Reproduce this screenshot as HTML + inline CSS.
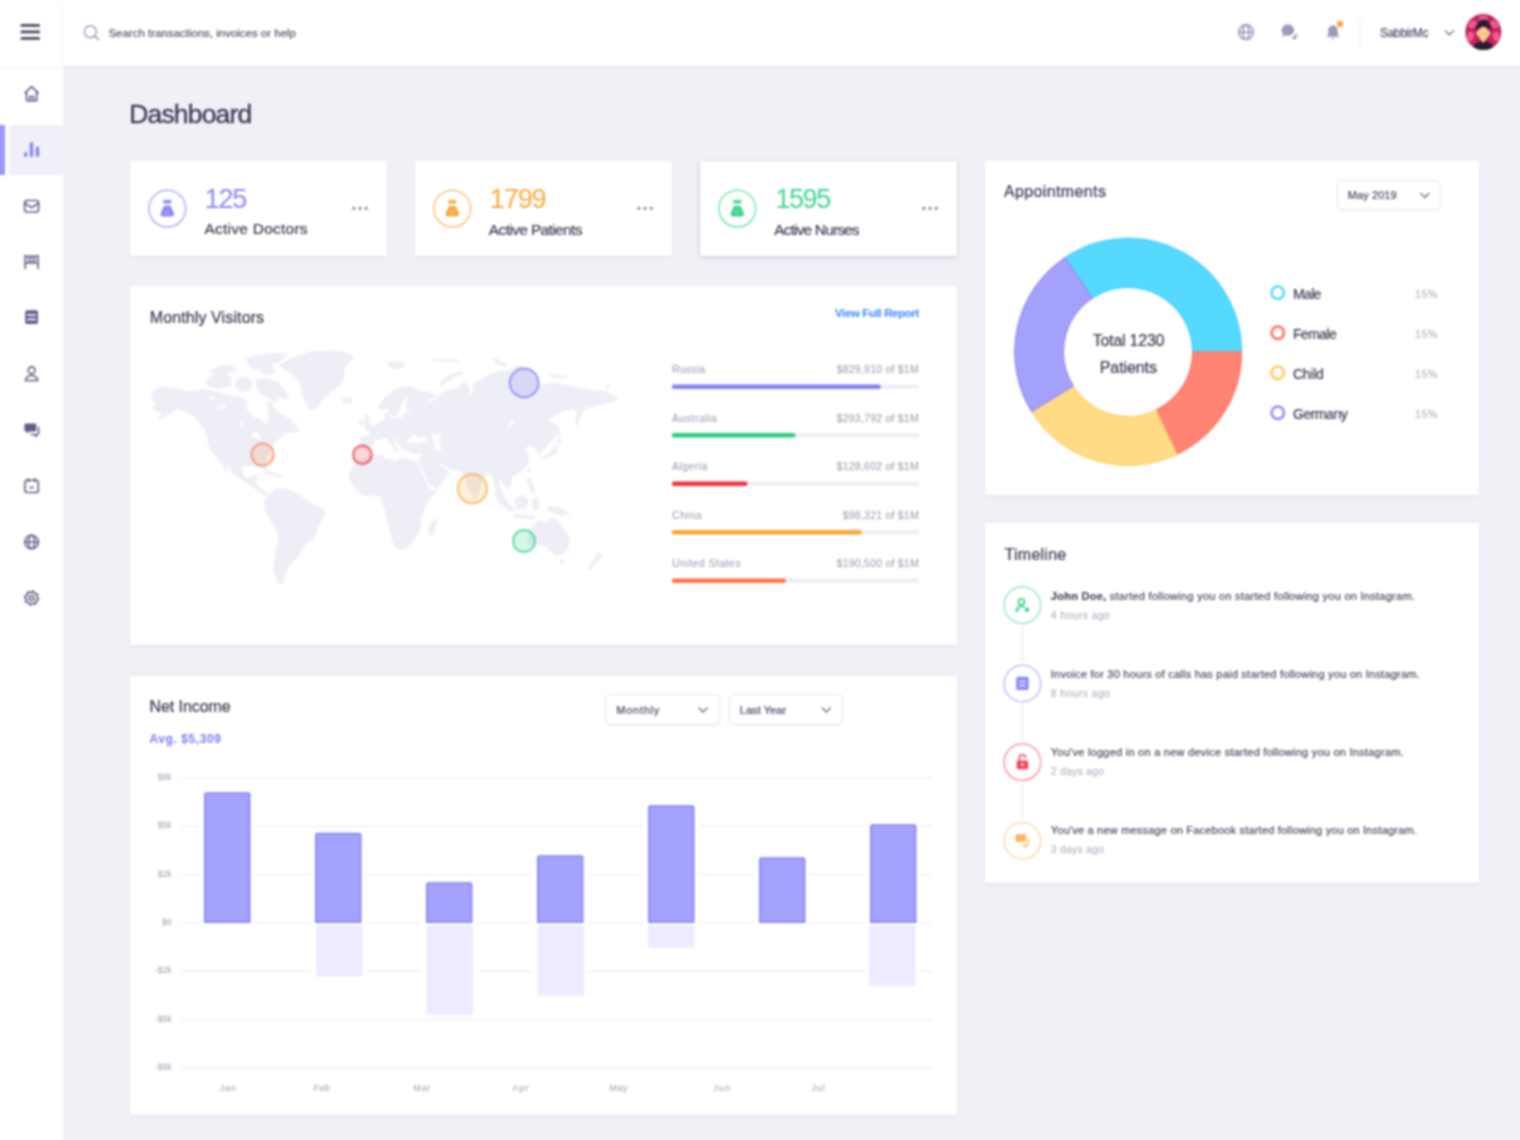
<!DOCTYPE html>
<html lang="en"><head><meta charset="utf-8"><title>Dashboard</title>
<style>
*{box-sizing:border-box;margin:0;padding:0}
html,body{width:1520px;height:1140px;overflow:hidden}
body{background:#f0f0f7;font-family:"Liberation Sans", sans-serif;position:relative;color:#43425d}
.fx{position:absolute;left:-24px;top:-24px;width:1568px;height:1188px;background:#f0f0f7;filter:blur(.9px)}
.pg{position:absolute;left:24px;top:24px;width:1520px;height:1140px}
.t{position:absolute;white-space:nowrap;line-height:1;display:block}
.a{position:absolute}
.card{position:absolute;background:#fff;box-shadow:-.5px 1px 3px rgba(60,60,110,.09)}
svg{position:absolute;overflow:visible}
</style></head>
<body>
<div class="fx"><div class="pg">
<div class="a" style="left:-12px;top:66px;width:75px;height:1090px;background:#fff"></div>
<div class="a" style="left:-12px;top:-12px;width:1544px;height:78px;background:#fff;box-shadow:0 1px 4px rgba(60,60,110,.08)"></div>
<div class="a" style="left:8.500px;top:125px;width:54.500px;height:50px;background:#f0f0f8"></div>
<div class="a" style="left:-12px;top:124.500px;width:16.700px;height:50px;background:#9a96fa"></div>
<div class="card" style="left:130px;top:161px;width:257px;height:95px;"></div>
<div class="card" style="left:415px;top:161px;width:257px;height:95px;"></div>
<div class="card" style="left:700px;top:161px;width:257px;height:95px;box-shadow:0 1px 4px rgba(50,50,90,.24)"></div>
<div class="card" style="left:130px;top:286px;width:827px;height:359px;"></div>
<div class="card" style="left:130px;top:675.6px;width:827px;height:439.4px;"></div>
<div class="card" style="left:985.4px;top:161px;width:494px;height:334px;"></div>
<div class="card" style="left:985.4px;top:523.3px;width:494px;height:359.7px;"></div>
<div class="a" style="left:1337.3px;top:179.8px;width:103.7px;height:30.6px;background:#fff;border:1.200px solid #e6e7f0;border-radius:5px;box-shadow:0 1px 2px rgba(60,60,110,.07)"></div>
<div class="a" style="left:605.2px;top:694.3px;width:114.6px;height:30.5px;background:#fff;border:1.200px solid #e6e7f0;border-radius:5px;box-shadow:0 1px 2px rgba(60,60,110,.07)"></div>
<div class="a" style="left:728.7px;top:694.3px;width:114.8px;height:30.5px;background:#fff;border:1.200px solid #e6e7f0;border-radius:5px;box-shadow:0 1px 2px rgba(60,60,110,.07)"></div>
<svg width="1520" height="1140" viewBox="0 0 1520 1140" style="left:0;top:0">
<rect x="20.5" y="23.9" width="19.5" height="2.8" rx="1" fill="#4a4a60"/>
<rect x="20.5" y="30.45" width="19.5" height="2.8" rx="1" fill="#4a4a60"/>
<rect x="20.5" y="37" width="19.5" height="2.8" rx="1" fill="#4a4a60"/>
<path d="M63.700 0V65.500" stroke="#f8f8fb" stroke-width="1"/>
<circle cx="90.400" cy="31.700" r="6" fill="none" stroke="#8f8fac" stroke-width="1.250"/><path d="M94.900 36.200l3.700 3.600" stroke="#8f8fac" stroke-width="1.300" stroke-linecap="round"/>
<g fill="none" stroke="#9a9aba" stroke-width="1.700"><circle cx="1246" cy="32.200" r="7.300"/><ellipse cx="1246" cy="32.200" rx="3.100" ry="7.300"/><path d="M1238.700 32.200h14.600"/></g>
<path d="M1287.900 24.500c3.500 0 6.200 2.500 6.200 5.600s-2.700 5.600-6.200 5.600c-.9 0-1.700-.1-2.500-.4l-3.300 1.400.9-3c-.8-1-1.300-2.200-1.300-3.600 0-3.100 2.700-5.600 6.200-5.600z" fill="#9a9aba"/><path d="M1297.600 33l-1.600 6.200-4.600-.6z" fill="#9a9aba"/>
<path d="M1333 25.500c-3.200 0-4.700 2.400-4.700 5.200v3.500l-1.800 2.500h13l-1.800-2.500v-3.500c0-2.800-1.500-5.200-4.700-5.200z" fill="#9a9aba"/><path d="M1331.300 38.200a1.800 1.800 0 0 0 3.400 0z" fill="#9a9aba"/>
<circle cx="1340" cy="24" r="3.700" fill="#fca73d" stroke="#fff" stroke-width="1"/>
<path d="M1360 19.500v25.500" stroke="#f0f0f6" stroke-width="1.400"/>
<path d="M1445.300 30.800l4.100 4.100 4.100-4.100" fill="none" stroke="#8a8aa6" stroke-width="1.600" stroke-linecap="round" stroke-linejoin="round"/>
<clipPath id="av"><circle cx="1483.300" cy="32" r="18"/></clipPath>
<circle cx="1483.300" cy="32" r="18" fill="#c31f5c"/>
<g clip-path="url(#av)"><g fill="#ee5a90"><ellipse cx="1472.500" cy="24.500" rx="4.800" ry="3.600" transform="rotate(-40 1472.500 24.500)"/><ellipse cx="1494.500" cy="24.500" rx="4.800" ry="3.600" transform="rotate(40 1494.500 24.500)"/><ellipse cx="1470.500" cy="36.500" rx="3.600" ry="5" transform="rotate(15 1470.500 36.500)"/><ellipse cx="1496.200" cy="36.500" rx="3.600" ry="5" transform="rotate(-15 1496.200 36.500)"/><ellipse cx="1483.300" cy="18.200" rx="4.500" ry="2.600"/></g><ellipse cx="1483.300" cy="50.500" rx="11" ry="9.500" fill="#241f2e"/><path d="M1483.300 25.500l7.600 7.500-7.600 10-7.600-10z" fill="#fbd08c"/><path d="M1475 30.500c1-6 4.500-10.500 8.800-11 4.200.5 7.300 5 8.200 11-2.500-2.600-5-3.800-8.400-3.800s-6 1.200-8.600 3.800z" fill="#241f2e"/><path d="M1480.300 33.800h2.200m1.800 0h2.200" stroke="#b07a50" stroke-width=".9"/></g>
<g transform="translate(.6 0)">
<g fill="none" stroke="#5f5e86" stroke-width="1.600" stroke-linecap="round" stroke-linejoin="round"><path d="M24.300 93l6.700-6.400 6.700 6.400M26 91.800v9h10v-9M29.200 100.800v-4.300h3.600v4.300"/></g>
<g fill="#8280f8"><rect x="23.400" y="152.300" width="3.200" height="4.500" rx="1"/><rect x="29.300" y="142.200" width="3.200" height="14.600" rx="1"/><rect x="35.300" y="146.800" width="3.200" height="10" rx="1"/></g>
<g fill="none" stroke="#5f5e86" stroke-width="1.600" stroke-linecap="round" stroke-linejoin="round"><rect x="24" y="200.500" width="14" height="11.500" rx="2.500"/><path d="M24.500 203.500l6.500 4.200 6.500-4.200"/></g>
<g fill="none" stroke="#5f5e86" stroke-width="1.600" stroke-linecap="round" stroke-linejoin="round"><path d="M24.600 255.500v13M37.400 255.500v13M24.600 256.300h12.800M24.600 263h12.800M28 256.300v6.700M31 256.300v6.700M34 256.300v6.700"/></g>
<rect x="24.600" y="310.200" width="12.800" height="13.800" rx="1.800" fill="#5f5e86"/><path d="M27.300 314.800h7.400M27.300 319.400h7.400" stroke="#fff" stroke-width="1.700" stroke-linecap="round"/>
<g fill="none" stroke="#5f5e86" stroke-width="1.600" stroke-linecap="round" stroke-linejoin="round"><circle cx="31" cy="370.300" r="3.400"/><path d="M24.800 380.500c.6-3.600 3-5 6.200-5s5.600 1.400 6.200 5z"/></g>
<path d="M25 423.500h9.500a1.200 1.200 0 0 1 1.200 1.200v5.600a1.200 1.200 0 0 1-1.200 1.200h-5.500l-2.500 2.200v-2.200h-1.500a1.200 1.200 0 0 1-1.200-1.200v-5.600a1.200 1.200 0 0 1 1.200-1.200z" fill="#5f5e86"/>
<g fill="none" stroke="#5f5e86" stroke-width="1.600" stroke-linecap="round" stroke-linejoin="round"><path d="M38 427.500v5.800a1.200 1.200 0 0 1-1.200 1.200h-1.300v2l-2.300-2h-2.500"/></g>
<g fill="none" stroke="#5f5e86" stroke-width="1.600" stroke-linecap="round" stroke-linejoin="round"><rect x="24.300" y="480.300" width="13.400" height="12.200" rx="2.200"/><path d="M27.800 478.700v3M34.200 478.700v3M29.300 487.500h3.400"/></g>
<g fill="none" stroke="#5f5e86" stroke-width="1.600" stroke-linecap="round" stroke-linejoin="round"><circle cx="31" cy="542" r="6.800"/><ellipse cx="31" cy="542" rx="3" ry="6.800"/><path d="M24.200 542h13.600"/></g>
<polygon points="37.96,599.39 35.49,601.00 34.94,603.90 32.05,603.30 29.61,604.96 28.00,602.49 25.10,601.94 25.70,599.05 24.04,596.61 26.51,595.00 27.06,592.10 29.95,592.70 32.39,591.04 34.00,593.51 36.90,594.06 36.30,596.95" fill="none" stroke="#5f5e86" stroke-width="1.700" stroke-linejoin="round"/><circle cx="31" cy="598" r="2.300" fill="none" stroke="#5f5e86" stroke-width="1.600"/>
</g>
<circle cx="167.3" cy="208.6" r="18.400" fill="none" stroke="#8a87f8" stroke-width="1.500" opacity=".7"/>
<g transform="translate(167.3 208.6)" fill="#8a87f8"><rect x="-4.100" y="-8.500" width="8.200" height="3.300" rx="1.300"/><path d="M-2-2.800h4c.8 0 1.300.3 1.700 1l2.600 5.600c1 2-.1 4-2.300 4h-8c-2.200 0-3.300-2-2.300-4l2.600-5.600c.4-.7.900-1 1.700-1z"/><circle cx="0" cy="3.300" r="2.100" fill="#fff" opacity=".22"/></g>
<circle cx="452.3" cy="208.6" r="18.400" fill="none" stroke="#fca73d" stroke-width="1.500" opacity=".7"/>
<g transform="translate(452.3 208.6)" fill="#fca73d"><rect x="-4.100" y="-8.500" width="8.200" height="3.300" rx="1.300"/><path d="M-2-2.800h4c.8 0 1.300.3 1.700 1l2.600 5.600c1 2-.1 4-2.300 4h-8c-2.200 0-3.300-2-2.300-4l2.600-5.600c.4-.7.900-1 1.700-1z"/><circle cx="0" cy="3.300" r="2.100" fill="#fff" opacity=".22"/></g>
<circle cx="737.3" cy="208.6" r="18.400" fill="none" stroke="#3ed68f" stroke-width="1.500" opacity=".7"/>
<g transform="translate(737.3 208.6)" fill="#3ed68f"><rect x="-4.100" y="-8.500" width="8.200" height="3.300" rx="1.300"/><path d="M-2-2.800h4c.8 0 1.300.3 1.700 1l2.600 5.600c1 2-.1 4-2.300 4h-8c-2.200 0-3.300-2-2.300-4l2.600-5.600c.4-.7.900-1 1.700-1z"/><circle cx="0" cy="3.300" r="2.100" fill="#fff" opacity=".22"/></g>
<circle cx="353.8" cy="208.300" r="1.500" fill="#7d7d9a"/>
<circle cx="360" cy="208.300" r="1.500" fill="#7d7d9a"/>
<circle cx="366.2" cy="208.300" r="1.500" fill="#7d7d9a"/>
<circle cx="638.8" cy="208.300" r="1.500" fill="#7d7d9a"/>
<circle cx="645" cy="208.300" r="1.500" fill="#7d7d9a"/>
<circle cx="651.2" cy="208.300" r="1.500" fill="#7d7d9a"/>
<circle cx="923.8" cy="208.300" r="1.500" fill="#7d7d9a"/>
<circle cx="930" cy="208.300" r="1.500" fill="#7d7d9a"/>
<circle cx="936.2" cy="208.300" r="1.500" fill="#7d7d9a"/>
<path d="M674 386.7 H916.700" stroke="#edeff5" stroke-width="4.400" stroke-linecap="round"/>
<path d="M674 386.7 H878.7" stroke="#8280f8" stroke-width="4.400" stroke-linecap="round"/>
<path d="M674 435.2 H916.700" stroke="#edeff5" stroke-width="4.400" stroke-linecap="round"/>
<path d="M674 435.2 H793.3" stroke="#2ecf85" stroke-width="4.400" stroke-linecap="round"/>
<path d="M674 483.7 H916.700" stroke="#edeff5" stroke-width="4.400" stroke-linecap="round"/>
<path d="M674 483.7 H745.3" stroke="#f5323f" stroke-width="4.400" stroke-linecap="round"/>
<path d="M674 532.2 H916.700" stroke="#edeff5" stroke-width="4.400" stroke-linecap="round"/>
<path d="M674 532.2 H859.7" stroke="#fba633" stroke-width="4.400" stroke-linecap="round"/>
<path d="M674 580.7 H916.700" stroke="#edeff5" stroke-width="4.400" stroke-linecap="round"/>
<path d="M674 580.7 H783.7" stroke="#fb7444" stroke-width="4.400" stroke-linecap="round"/>
<g fill="#eeeef6" stroke="#eeeef6" stroke-width=".8" stroke-linejoin="round"><path d="M151.2 398.9 L154.0 390.8 L162.5 387.0 L175.1 388.4 L189.1 392.2 L203.2 389.8 L217.2 392.2 L227.0 395.0 L238.2 396.1 L246.7 401.8 L246.0 408.1 L252.3 416.5 L262.1 420.3 L265.2 425.9 L269.4 418.6 L267.7 407.6 L272.2 406.0 L279.2 413.0 L288.8 418.6 L296.1 425.9 L299.3 431.5 L286.0 432.9 L279.2 438.5 L273.6 444.1 L271.9 448.4 L267.0 456.5 L266.3 466.3 L268.0 472.2 L264.2 468.4 L252.3 466.3 L243.9 464.9 L241.1 469.4 L244.1 476.4 L247.4 479.2 L255.4 474.7 L258.2 479.2 L252.6 482.0 L259.6 487.4 L266.6 493.0 L274.7 497.9 L271.2 499.3 L262.1 493.3 L252.3 486.2 L241.1 479.2 L232.6 473.6 L229.8 466.6 L224.2 462.4 L216.5 456.8 L210.5 449.8 L207.6 438.5 L206.0 431.5 L200.6 423.1 L193.6 416.1 L186.6 411.9 L176.8 408.8 L168.4 414.7 L157.1 420.3 L162.5 413.3 L152.6 409.1 L155.7 403.4Z"/><path d="M218.6 459.3 L221.4 459.0 L227.7 469.8 L226.3 471.2Z"/><path d="M250.9 433.8 L256.5 431.9 L261.0 436.8 L258.6 438.9 L254.0 436.8Z" fill="#fff" stroke="#fff"/><path d="M210.2 396.8 L213.7 395.4 L214.4 398.2 L210.9 399.6Z" fill="#fff" stroke="#fff"/><path d="M218.6 406.7 L224.2 404.6 L224.9 407.1 L220.0 409.1Z" fill="#fff" stroke="#fff"/><path d="M239.9 422.8 L242.2 422.1 L243.6 425.9 L241.3 426.7Z" fill="#fff" stroke="#fff"/><path d="M206.0 380.7 L213.0 375.1 L224.2 373.7 L231.2 377.9 L229.8 386.3 L218.6 388.4 L208.8 386.3Z"/><path d="M210.2 371.6 L218.6 366.7 L229.8 365.3 L236.8 370.2 L227.0 373.0 L215.8 374.4Z"/><path d="M236.8 379.3 L246.7 376.5 L252.3 382.1 L249.5 390.5 L241.1 392.6 L235.4 386.3Z"/><path d="M245.3 359.6 L256.5 355.4 L271.9 353.3 L287.4 354.0 L280.4 361.1 L270.5 364.6 L274.7 372.3 L266.3 375.1 L259.3 370.2 L250.9 368.1Z"/><path d="M255.1 380.7 L266.3 378.6 L277.5 382.1 L286.0 391.9 L288.8 398.2 L280.4 397.5 L274.7 401.8 L266.3 396.1 L259.3 393.3Z"/><path d="M266.3 403.2 L271.9 401.8 L273.3 406.0 L268.4 407.4Z"/><path d="M261.4 471.2 L267.7 470.8 L275.0 474.0 L274.5 475.4 L266.3 473.3Z"/><path d="M275.9 475.4 L281.8 475.0 L282.0 477.3 L276.4 477.5Z"/><path d="M279.1 365.5 L295.1 356.4 L313.3 351.4 L340.7 350.9 L353.9 357.1 L345.2 367.4 L341.8 383.3 L331.6 391.3 L322.4 399.7 L316.1 408.9 L309.2 408.9 L302.4 394.7 L299.6 381.0 L288.7 371.9Z"/><path d="M341.8 398.4 L352.1 398.2 L351.4 402.9 L343.6 403.2Z"/><path d="M265.0 499.6 L271.1 493.2 L276.8 488.2 L288.2 489.4 L299.6 495.1 L308.8 501.9 L322.4 508.8 L325.2 513.8 L318.3 527.0 L313.8 538.4 L304.7 545.2 L297.8 556.6 L288.7 565.8 L284.1 577.2 L282.5 584.5 L277.3 582.2 L273.4 568.1 L276.4 549.8 L279.1 536.1 L272.3 522.4 L265.9 511.5 L264.3 503.1Z"/><path d="M364.1 414.8 L368.1 416.0 L368.8 420.9 L371.2 425.8 L365.5 427.5 L364.6 423.0 L366.0 419.5Z"/><path d="M358.5 420.9 L362.2 419.5 L362.5 423.7 L358.9 424.7Z"/><path d="M386.3 362.9 L396.1 361.2 L406.0 363.3 L401.8 368.2 L391.9 368.9Z"/><path d="M439.4 384.4 L443.9 378.8 L452.3 373.9 L461.4 371.3 L461.8 373.2 L453.7 376.9 L446.7 381.6 L442.5 385.8Z"/><path d="M432.6 359.1 L457.9 359.5 L457.6 361.2 L432.9 360.9Z"/><path d="M359.6 448.2 L361.1 436.3 L370.2 435.6 L368.8 431.4 L365.3 428.6 L372.3 426.5 L380.0 422.3 L384.9 419.5 L386.3 411.8 L389.1 412.5 L389.1 419.5 L398.9 418.8 L404.6 415.3 L406.0 411.8 L415.8 411.1 L407.4 409.6 L406.0 403.3 L408.8 396.3 L403.2 399.1 L400.4 408.9 L396.1 416.0 L391.9 416.7 L389.8 410.4 L387.7 407.5 L380.7 410.4 L378.6 406.1 L384.9 397.7 L393.3 390.7 L401.8 387.2 L411.6 387.2 L420.0 391.4 L429.8 392.1 L436.8 396.3 L429.8 398.4 L427.0 401.9 L435.4 400.5 L441.1 393.5 L446.7 390.7 L459.3 387.9 L463.5 382.3 L466.3 381.6 L470.5 394.9 L473.3 393.5 L473.3 383.7 L480.4 380.2 L500.0 373.2 L480.0 380.9 L488.4 375.3 L501.1 371.1 L508.1 371.1 L519.3 365.4 L530.5 369.6 L540.4 385.1 L554.4 383.0 L564.2 385.1 L578.2 387.9 L592.3 390.7 L606.3 392.1 L618.9 398.4 L614.7 401.2 L606.3 403.3 L595.1 406.1 L586.7 407.5 L582.5 411.8 L576.8 425.8 L575.4 418.8 L578.2 410.4 L572.6 408.9 L564.2 410.4 L555.8 414.6 L550.2 418.8 L548.8 421.6 L555.8 424.4 L557.2 431.4 L553.0 439.8 L547.4 445.4 L541.8 450.4 L538.9 454.6 L536.1 448.2 L529.1 445.4 L524.9 448.2 L527.7 453.9 L529.1 460.9 L526.3 466.5 L519.3 472.1 L512.3 476.3 L510.2 484.7 L508.1 488.9 L503.9 484.7 L501.1 479.1 L498.2 481.9 L501.1 490.4 L508.1 504.4 L502.5 501.6 L495.4 490.4 L494.0 479.1 L488.4 473.5 L484.2 476.3 L480.3 486.0 L475.8 499.6 L470.1 490.5 L464.4 476.8 L463.5 473.5 L460.7 470.7 L450.9 469.3 L446.7 466.5 L435.4 460.2 L441.1 466.5 L446.7 469.3 L448.8 473.5 L436.8 488.2 L429.8 484.7 L420.0 463.7 L418.6 460.9 L422.8 452.5 L413.0 453.2 L406.0 449.6 L407.4 444.7 L410.2 443.3 L418.6 444.0 L427.0 441.2 L424.2 435.6 L418.6 437.7 L415.8 434.2 L408.8 437.0 L407.4 442.6 L406.0 445.4 L403.9 451.1 L401.8 448.2 L396.1 439.8 L391.9 437.0 L394.0 442.6 L397.5 451.1 L396.1 451.8 L389.1 441.2 L386.3 437.0 L382.1 438.4 L375.1 439.8 L372.3 445.4 L364.6 450.4Z"/><path d="M432.6 434.2 L441.1 435.6 L438.2 441.2 L441.1 449.6 L436.8 451.1 L434.0 442.6Z" fill="#fff" stroke="#fff"/><path d="M507.4 426.5 L513.0 419.5 L514.4 420.5 L508.8 427.5Z" fill="#fff" stroke="#fff"/><path d="M556.5 425.8 L558.3 425.8 L560.3 436.3 L558.6 437.0Z"/><path d="M556.9 439.1 L561.4 438.4 L560.7 443.3 L557.9 443.8Z"/><path d="M554.4 446.1 L557.5 446.8 L555.8 453.2 L546.0 458.8 L541.1 458.8 L550.2 453.2Z"/><path d="M550.2 374.6 L558.6 375.0 L567.0 376.4 L566.3 377.8 L550.9 376.7Z"/><path d="M491.9 359.8 L495.4 358.7 L506.7 364.7 L506.0 366.8 L496.8 364.0Z"/><path d="M528.1 467.9 L530.2 468.2 L529.4 471.8 L528.0 471.0Z"/><path d="M527.0 479.1 L530.5 478.8 L535.4 491.1 L531.9 492.5 L529.1 486.1Z"/><path d="M606.3 385.8 L609.8 385.8 L609.8 387.6 L606.3 387.6Z"/><path d="M354.0 465.1 L365.3 458.1 L372.3 456.0 L382.1 454.6 L383.5 458.8 L396.1 461.6 L401.8 458.1 L415.8 460.9 L418.6 466.5 L427.0 484.7 L429.8 490.4 L438.2 490.4 L429.0 499.6 L425.6 505.3 L421.0 517.9 L419.2 531.6 L410.1 545.2 L401.0 550.3 L394.1 545.7 L389.6 527.5 L385.0 509.2 L380.0 495.5 L379.5 495.5 L363.5 495.5 L354.8 488.7 L349.8 477.3 L349.8 472.1Z"/><path d="M434.3 519.0 L437.0 522.4 L432.9 533.8 L429.0 535.7 L428.3 529.3Z"/><path d="M494.0 493.2 L498.6 493.9 L514.5 509.9 L511.1 512.2 L498.6 501.9Z"/><path d="M514.5 499.6 L522.5 495.1 L528.2 499.6 L526.0 507.6 L516.8 508.8Z"/><path d="M513.4 514.5 L535.1 516.1 L534.6 519.0 L514.1 517.4Z"/><path d="M531.7 499.6 L537.4 497.4 L538.5 508.8 L533.9 509.9Z"/><path d="M547.6 506.0 L560.2 507.6 L569.3 514.5 L562.4 515.6 L548.8 511.0Z"/><path d="M528.2 531.6 L533.2 525.2 L539.6 520.6 L547.6 522.4 L551.5 517.9 L555.6 518.3 L559.0 522.4 L562.4 527.5 L569.7 538.9 L567.5 550.3 L560.2 554.8 L555.6 555.5 L549.2 550.3 L544.2 545.7 L537.4 544.8 L530.5 546.4 L527.8 540.7Z"/><path d="M560.2 559.4 L564.3 559.4 L563.4 563.5 L560.6 563.5Z"/><path d="M597.8 553.2 L602.3 554.4 L596.6 562.3 L590.9 569.2 L588.0 568.1 L594.4 560.1Z"/></g>
<circle cx="524.1" cy="382.9" r="14.3" fill="#8280f8" fill-opacity=".2" stroke="#8280f8" stroke-opacity=".78" stroke-width="2"/>
<circle cx="262.5" cy="454.5" r="11.1" fill="#fb8a5c" fill-opacity=".2" stroke="#fb8a5c" stroke-opacity=".78" stroke-width="2"/>
<circle cx="362.4" cy="454.7" r="9.2" fill="#f5323f" fill-opacity=".2" stroke="#f5323f" stroke-opacity=".78" stroke-width="2"/>
<circle cx="472.4" cy="488.7" r="14.6" fill="#fbb04c" fill-opacity=".2" stroke="#fbb04c" stroke-opacity=".78" stroke-width="2"/>
<circle cx="524.1" cy="541.1" r="11" fill="#3ed68f" fill-opacity=".2" stroke="#3ed68f" stroke-opacity=".78" stroke-width="2"/>
<path d="M1065.02 257.67 A113.4 113.4 0 0 1 1241.50 351.90 L1192.70 351.90 A64.6 64.6 0 0 0 1092.16 298.22 Z" fill="#56d9fe" stroke="#46d0fc" stroke-width="1.300" stroke-linejoin="round"/>
<path d="M1241.50 351.90 A113.4 113.4 0 0 1 1176.74 454.34 L1155.81 410.26 A64.6 64.6 0 0 0 1192.70 351.90 Z" fill="#ff8474" stroke="#ff7565" stroke-width="1.300" stroke-linejoin="round"/>
<path d="M1176.74 454.34 A113.4 113.4 0 0 1 1031.62 411.49 L1073.14 385.85 A64.6 64.6 0 0 0 1155.81 410.26 Z" fill="#ffdb85" stroke="#ffd272" stroke-width="1.300" stroke-linejoin="round"/>
<path d="M1031.62 411.49 A113.4 113.4 0 0 1 1065.02 257.67 L1092.16 298.22 A64.6 64.6 0 0 0 1073.14 385.85 Z" fill="#a4a1fb" stroke="#9390fa" stroke-width="1.300" stroke-linejoin="round"/>
<circle cx="1277.800" cy="292.7" r="6.200" fill="#fff" stroke="#55d8fe" stroke-width="2.500"/>
<circle cx="1277.800" cy="332.7" r="6.200" fill="#fff" stroke="#ff6e5e" stroke-width="2.500"/>
<circle cx="1277.800" cy="372.7" r="6.200" fill="#fff" stroke="#ffca5c" stroke-width="2.500"/>
<circle cx="1277.800" cy="412.7" r="6.200" fill="#fff" stroke="#8f8cf9" stroke-width="2.500"/>
<path d="M1420.8 193.5l4 4 4-4" fill="none" stroke="#77778f" stroke-width="1.500" stroke-linecap="round" stroke-linejoin="round"/>
<path d="M699 708l4 4 4-4" fill="none" stroke="#77778f" stroke-width="1.500" stroke-linecap="round" stroke-linejoin="round"/>
<path d="M822.3 708l4 4 4-4" fill="none" stroke="#77778f" stroke-width="1.500" stroke-linecap="round" stroke-linejoin="round"/>
<path d="M1022.400 627.1 V661.65" stroke="#eeeef5" stroke-width="1.800"/>
<circle cx="1022.400" cy="605.1" r="18.300" fill="#fff" stroke="#3ed68f" stroke-width="1.500" stroke-opacity=".55"/>
<path d="M1022.400 705.65 V740.2" stroke="#eeeef5" stroke-width="1.800"/>
<circle cx="1022.400" cy="683.65" r="18.300" fill="#fff" stroke="#8a87f8" stroke-width="1.500" stroke-opacity=".55"/>
<path d="M1022.400 784.2 V818.75" stroke="#eeeef5" stroke-width="1.800"/>
<circle cx="1022.400" cy="762.2" r="18.300" fill="#fff" stroke="#f5425a" stroke-width="1.500" stroke-opacity=".55"/>
<circle cx="1022.400" cy="840.75" r="18.300" fill="#fff" stroke="#fdb863" stroke-width="1.500" stroke-opacity=".55"/>
<g fill="none" stroke="#3ed68f" stroke-width="1.800" stroke-linecap="round"><circle cx="1021.400" cy="601.800" r="3"/><path d="M1016.800 610.500c.5-2.900 2.200-4.200 4.600-4.200 1 0 1.800.2 2.500.6"/></g><circle cx="1027" cy="609.800" r="2.300" fill="#3ed68f"/><circle cx="1017" cy="610.300" r="1.600" fill="#3ed68f"/>
<rect x="1016.200" y="676.800" width="12.400" height="13.200" rx="1.500" fill="#8a87f8"/><path d="M1019.200 681.500h6.400M1019.200 685.500h6.400" stroke="#dcdbfd" stroke-width="1.800"/>
<rect x="1016.700" y="760.500" width="11.400" height="8.800" rx="1.400" fill="#f5425a"/><path d="M1019.300 760.500v-2.600a3.100 3.100 0 0 1 6.200 0" fill="none" stroke="#f5425a" stroke-width="1.600"/><circle cx="1022.400" cy="764.700" r="1.400" fill="#fff"/>
<path d="M1016.500 834.300h8.500a1 1 0 0 1 1 1v5.400a1 1 0 0 1-1 1h-4.800l-2.200 1.900v-1.900h-1.500a1 1 0 0 1-1-1v-5.400a1 1 0 0 1 1-1z" fill="#fdb45c"/><path d="M1028.300 839v5.200a1 1 0 0 1-1 1h-1.200v1.800l-2-1.800h-2.300" fill="none" stroke="#fdb45c" stroke-width="1.300" stroke-linecap="round" stroke-linejoin="round"/>
<path d="M182 778 H932" stroke="#eff0f7" stroke-width="1.400"/>
<path d="M182 826.3 H932" stroke="#eff0f7" stroke-width="1.400"/>
<path d="M182 874.6 H932" stroke="#eff0f7" stroke-width="1.400"/>
<path d="M182 922.9 H932" stroke="#eff0f7" stroke-width="1.400"/>
<path d="M182 971.2 H932" stroke="#eff0f7" stroke-width="1.400"/>
<path d="M182 1019.5 H932" stroke="#eff0f7" stroke-width="1.400"/>
<path d="M182 1067.8 H932" stroke="#eff0f7" stroke-width="1.400"/>
<rect x="199.5" y="789.2" width="55.600" height="136.8" fill="#fff"/>
<path d="M204.9 922.100v-127.5a1.500 1.500 0 0 1 1.500-1.500h41.700a1.500 1.500 0 0 1 1.500 1.500v127.5z" fill="#a5a2fb" stroke="#8a87f9" stroke-width="1.800"/>
<rect x="310.5" y="829.8" width="55.600" height="149.8" fill="#fff"/>
<path d="M316.3 925.400h46.500v49.2a2 2 0 0 1-2 2h-42.500a2 2 0 0 1-2-2z" fill="#edebfe"/>
<path d="M315.9 922.100v-86.9a1.500 1.500 0 0 1 1.500-1.500h41.700a1.500 1.500 0 0 1 1.500 1.500v86.9z" fill="#a5a2fb" stroke="#8a87f9" stroke-width="1.800"/>
<rect x="421.5" y="879.2" width="55.600" height="138.3" fill="#fff"/>
<path d="M426.7 925.400h46.500v87.1a2 2 0 0 1-2 2h-42.500a2 2 0 0 1-2-2z" fill="#edebfe"/>
<path d="M426.9 922.100v-37.5a1.500 1.500 0 0 1 1.500-1.500h41.700a1.500 1.500 0 0 1 1.500 1.500v37.5z" fill="#a5a2fb" stroke="#8a87f9" stroke-width="1.800"/>
<rect x="532.5" y="852.2" width="55.600" height="146.4" fill="#fff"/>
<path d="M537.7 925.400h46.500v68.2a2 2 0 0 1-2 2h-42.500a2 2 0 0 1-2-2z" fill="#edebfe"/>
<path d="M537.9 922.100v-64.5a1.500 1.500 0 0 1 1.500-1.500h41.700a1.500 1.500 0 0 1 1.500 1.500v64.5z" fill="#a5a2fb" stroke="#8a87f9" stroke-width="1.800"/>
<rect x="643.5" y="802.2" width="55.600" height="148.8" fill="#fff"/>
<path d="M648 925.400h46.500v20.6a2 2 0 0 1-2 2h-42.500a2 2 0 0 1-2-2z" fill="#edebfe"/>
<path d="M648.9 922.100v-114.5a1.500 1.500 0 0 1 1.500-1.500h41.700a1.500 1.500 0 0 1 1.500 1.500v114.5z" fill="#a5a2fb" stroke="#8a87f9" stroke-width="1.800"/>
<rect x="754.5" y="854.2" width="55.600" height="71.8" fill="#fff"/>
<path d="M759.9 922.100v-62.5a1.500 1.500 0 0 1 1.500-1.500h41.700a1.500 1.500 0 0 1 1.500 1.500v62.5z" fill="#a5a2fb" stroke="#8a87f9" stroke-width="1.800"/>
<rect x="865.5" y="821.2" width="55.600" height="167.8" fill="#fff"/>
<path d="M869 925.400h46.500v58.6a2 2 0 0 1-2 2h-42.500a2 2 0 0 1-2-2z" fill="#edebfe"/>
<path d="M870.9 922.100v-95.5a1.500 1.500 0 0 1 1.500-1.500h41.700a1.500 1.500 0 0 1 1.500 1.500v95.5z" fill="#a5a2fb" stroke="#8a87f9" stroke-width="1.800"/>
</svg>
<span class="t" style="top:28.3px;font-size:11.5px;color:#4a4a64;left:108.4px;letter-spacing:-0.01px;-webkit-text-stroke:.15px #4a4a64;">Search transactions, invoices or help</span>
<span class="t" style="top:27.1px;font-size:12px;color:#4e4e68;left:1380.0px;letter-spacing:-0.31px;-webkit-text-stroke:.25px #4e4e68;">SabbirMc</span>
<span class="t" style="top:100.6px;font-size:26.5px;color:#3b3a55;left:129.2px;letter-spacing:-0.83px;-webkit-text-stroke:.35px #3b3a55;">Dashboard</span>
<span class="t" style="top:186.3px;font-size:27px;color:#8a87f8;left:204.8px;letter-spacing:-1.28px;">125</span>
<span class="t" style="top:221.4px;font-size:15.5px;color:#37364e;left:204.5px;letter-spacing:0.24px;-webkit-text-stroke:.2px #37364e;">Active Doctors</span>
<span class="t" style="top:186.3px;font-size:27px;color:#fca73d;left:489.8px;letter-spacing:-1.09px;">1799</span>
<span class="t" style="top:221.9px;font-size:15.5px;color:#37364e;left:488.8px;letter-spacing:-0.63px;-webkit-text-stroke:.2px #37364e;">Active Patients</span>
<span class="t" style="top:186.3px;font-size:27px;color:#3ed68f;left:775.5px;letter-spacing:-1.46px;">1595</span>
<span class="t" style="top:221.9px;font-size:15.5px;color:#37364e;left:774.3px;letter-spacing:-0.86px;-webkit-text-stroke:.2px #37364e;">Active Nurses</span>
<span class="t" style="top:310.0px;font-size:16px;color:#37364e;left:149.7px;letter-spacing:0.12px;-webkit-text-stroke:.2px #37364e;">Monthly Visitors</span>
<span class="t" style="top:307.6px;font-size:11.5px;color:#3b86ff;font-weight:700;left:835.0px;letter-spacing:-0.37px;">View Full Report</span>
<span class="t" style="top:364.4px;font-size:10.5px;color:#9696ab;left:672.0px;letter-spacing:0.18px;">Russia</span>
<span class="t" style="top:364.4px;font-size:10.5px;color:#9696ab;right:601.3px;letter-spacing:0.23px;margin-right:-0.23px;">$829,910 of $1M</span>
<span class="t" style="top:412.9px;font-size:10.5px;color:#9696ab;left:672.0px;letter-spacing:0.48px;">Australia</span>
<span class="t" style="top:412.9px;font-size:10.5px;color:#9696ab;right:601.3px;letter-spacing:0.23px;margin-right:-0.23px;">$293,792 of $1M</span>
<span class="t" style="top:461.4px;font-size:10.5px;color:#9696ab;left:672.0px;letter-spacing:0.44px;">Algeria</span>
<span class="t" style="top:461.4px;font-size:10.5px;color:#9696ab;right:601.3px;letter-spacing:0.23px;margin-right:-0.23px;">$128,602 of $1M</span>
<span class="t" style="top:509.9px;font-size:10.5px;color:#9696ab;left:672.0px;letter-spacing:0.57px;">China</span>
<span class="t" style="top:509.9px;font-size:10.5px;color:#9696ab;right:601.3px;letter-spacing:0.23px;margin-right:-0.23px;">$98,321 of $1M</span>
<span class="t" style="top:558.4px;font-size:10.5px;color:#9696ab;left:672.0px;letter-spacing:0.47px;">United States</span>
<span class="t" style="top:558.4px;font-size:10.5px;color:#9696ab;right:601.3px;letter-spacing:0.23px;margin-right:-0.23px;">$190,500 of $1M</span>
<span class="t" style="top:183.7px;font-size:16px;color:#37364e;left:1004.0px;letter-spacing:0.37px;-webkit-text-stroke:.2px #37364e;">Appointments</span>
<span class="t" style="top:190.2px;font-size:11px;color:#45455e;left:1347.8px;letter-spacing:0.08px;-webkit-text-stroke:.2px #45455e;">May 2019</span>
<span class="t" style="top:333.2px;font-size:16px;color:#37364e;left:1128.5px;transform:translateX(-50%);letter-spacing:-0.23px;-webkit-text-stroke:.2px #37364e;">Total 1230</span>
<span class="t" style="top:359.5px;font-size:16px;color:#37364e;left:1128.3px;transform:translateX(-50%);letter-spacing:-0.09px;-webkit-text-stroke:.2px #37364e;">Patients</span>
<span class="t" style="top:286.9px;font-size:14px;color:#37364e;left:1293.0px;letter-spacing:-0.65px;-webkit-text-stroke:.2px #37364e;">Male</span>
<span class="t" style="top:288.7px;font-size:10.5px;color:#a6a6ba;left:1415.0px;letter-spacing:0.69px;">15%</span>
<span class="t" style="top:326.9px;font-size:14px;color:#37364e;left:1293.0px;letter-spacing:-0.58px;-webkit-text-stroke:.2px #37364e;">Female</span>
<span class="t" style="top:328.7px;font-size:10.5px;color:#a6a6ba;left:1415.0px;letter-spacing:0.69px;">15%</span>
<span class="t" style="top:366.9px;font-size:14px;color:#37364e;left:1293.0px;letter-spacing:-0.28px;-webkit-text-stroke:.2px #37364e;">Child</span>
<span class="t" style="top:368.7px;font-size:10.5px;color:#a6a6ba;left:1415.0px;letter-spacing:0.69px;">15%</span>
<span class="t" style="top:406.9px;font-size:14px;color:#37364e;left:1293.0px;letter-spacing:-0.48px;-webkit-text-stroke:.2px #37364e;">Germany</span>
<span class="t" style="top:408.7px;font-size:10.5px;color:#a6a6ba;left:1415.0px;letter-spacing:0.69px;">15%</span>
<span class="t" style="top:546.8px;font-size:16px;color:#37364e;left:1004.6px;letter-spacing:0.25px;-webkit-text-stroke:.2px #37364e;">Timeline</span>
<span class="t" style="top:591.0px;font-size:11px;color:#3e3d56;left:1050.8px;letter-spacing:0.27px;-webkit-text-stroke:.15px #3e3d56;"><b>John Doe,</b> started following you on started following you on Instagram.</span>
<span class="t" style="top:610.1px;font-size:10.5px;color:#a6a6ba;left:1050.8px;letter-spacing:0.37px;">4 hours ago</span>
<span class="t" style="top:669.1px;font-size:11px;color:#3e3d56;left:1050.8px;letter-spacing:0.23px;-webkit-text-stroke:.15px #3e3d56;">Invoice for 30 hours of calls has paid started following you on Instagram.</span>
<span class="t" style="top:688.2px;font-size:10.5px;color:#a6a6ba;left:1050.8px;letter-spacing:0.37px;">8 hours ago</span>
<span class="t" style="top:747.2px;font-size:11px;color:#3e3d56;left:1050.8px;letter-spacing:0.25px;-webkit-text-stroke:.15px #3e3d56;">You've logged in on a new device started following you on Instagram.</span>
<span class="t" style="top:766.3px;font-size:10.5px;color:#a6a6ba;left:1050.8px;letter-spacing:0.18px;">2 days ago</span>
<span class="t" style="top:825.3px;font-size:11px;color:#3e3d56;left:1050.8px;letter-spacing:0.20px;-webkit-text-stroke:.15px #3e3d56;">You've a new message on Facebook started following you on Instagram.</span>
<span class="t" style="top:844.4px;font-size:10.5px;color:#a6a6ba;left:1050.8px;letter-spacing:0.18px;">3 days ago</span>
<span class="t" style="top:699.1px;font-size:16px;color:#37364e;left:149.5px;letter-spacing:-0.06px;-webkit-text-stroke:.2px #37364e;">Net Income</span>
<span class="t" style="top:732.8px;font-size:12px;color:#7b79f5;font-weight:700;left:149.5px;letter-spacing:0.59px;">Avg. $5,309</span>
<span class="t" style="top:704.5px;font-size:11px;color:#45455e;left:616.3px;letter-spacing:0.74px;-webkit-text-stroke:.2px #45455e;">Monthly</span>
<span class="t" style="top:704.5px;font-size:11px;color:#45455e;left:739.7px;letter-spacing:0.07px;-webkit-text-stroke:.2px #45455e;">Last Year</span>
<span class="t" style="top:773.0px;font-size:8.5px;color:#9a9ab0;right:1348.6px;">$8k</span>
<span class="t" style="top:821.3px;font-size:8.5px;color:#9a9ab0;right:1348.6px;">$5k</span>
<span class="t" style="top:869.6px;font-size:8.5px;color:#9a9ab0;right:1348.6px;">$2k</span>
<span class="t" style="top:917.9px;font-size:8.5px;color:#9a9ab0;right:1348.6px;">$0</span>
<span class="t" style="top:966.2px;font-size:8.5px;color:#9a9ab0;right:1348.6px;">-$2k</span>
<span class="t" style="top:1014.5px;font-size:8.5px;color:#9a9ab0;right:1348.6px;">-$5k</span>
<span class="t" style="top:1062.8px;font-size:8.5px;color:#9a9ab0;right:1348.6px;">-$8k</span>
<span class="t" style="top:1083.7px;font-size:9px;color:#9a9ab0;left:219.8px;letter-spacing:0.74px;">Jan</span>
<span class="t" style="top:1083.7px;font-size:9px;color:#9a9ab0;left:313.7px;letter-spacing:0.24px;">Feb</span>
<span class="t" style="top:1083.7px;font-size:9px;color:#9a9ab0;left:413.5px;letter-spacing:0.65px;">Mar</span>
<span class="t" style="top:1083.7px;font-size:9px;color:#9a9ab0;left:512.4px;letter-spacing:0.99px;">Apr</span>
<span class="t" style="top:1083.7px;font-size:9px;color:#9a9ab0;left:609.5px;letter-spacing:0.49px;">May</span>
<span class="t" style="top:1083.7px;font-size:9px;color:#9a9ab0;left:713.0px;letter-spacing:1.24px;">Jun</span>
<span class="t" style="top:1083.7px;font-size:9px;color:#9a9ab0;left:811.6px;letter-spacing:0.74px;">Jul</span>
</div></div>
</body></html>
